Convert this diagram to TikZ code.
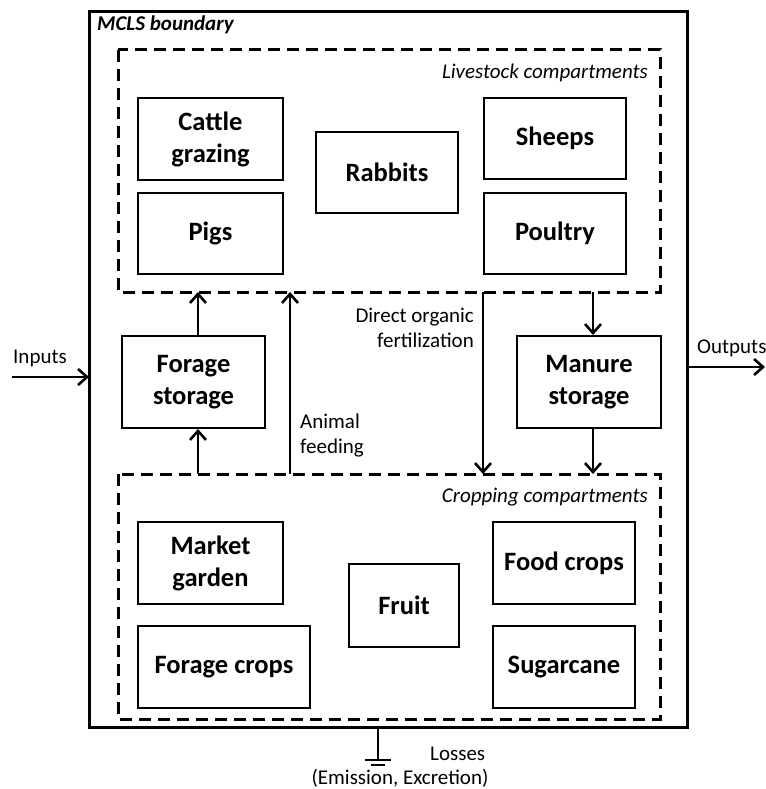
\documentclass[tikz,border=0pt]{standalone}
\usepackage{fontspec}
\setmainfont{Carlito}
\usetikzlibrary{arrows.meta}
\begin{document}
\begin{tikzpicture}[x=1pt,y=-1pt,
  unit/.style={draw,line width=2pt,font=\fontsize{26.5}{32}\selectfont\bfseries,align=center,anchor=north west,inner sep=0pt},
  zone/.style={draw,line width=3pt,dash pattern=on 12pt off 7pt},
  flow/.style={line width=2.6pt,-{Straight Barb[length=9pt,width=16pt]}},
  note/.style={font=\fontsize{21}{24.5}\selectfont,inner sep=0pt}]
\useasboundingbox (0,0) rectangle (765,789);
% system boundary
\draw[line width=3pt] (89,12) rectangle (687,727);
\node[anchor=north west,inner sep=0pt,font=\fontsize{21}{24}\selectfont\bfseries\itshape] at (97,16) {MCLS boundary};
% compartments
\draw[zone] (118,50) rectangle (660,292);
\node[note,anchor=base east,font=\fontsize{21}{24}\selectfont\itshape] at (648,79) {Livestock compartments};
\draw[zone] (118,474) rectangle (660,719);
\node[note,anchor=base east,font=\fontsize{21}{24}\selectfont\itshape] at (648,502) {Cropping compartments};
% livestock units
\node[unit,minimum width=145pt,minimum height=82pt] (cattle) at (137,97) {Cattle\\grazing};
\node[unit,minimum width=145pt,minimum height=81pt] (pigs) at (137,192) {Pigs};
\node[unit,minimum width=142pt,minimum height=81pt] (rabbits) at (315,131) {Rabbits};
\node[unit,minimum width=142pt,minimum height=81pt] (sheeps) at (483,97) {Sheeps};
\node[unit,minimum width=142pt,minimum height=81pt] (poultry) at (483,192) {Poultry};
% storages
\node[unit,minimum width=143pt,minimum height=92pt] (forage) at (121,335) {Forage\\storage};
\node[unit,minimum width=144pt,minimum height=92pt] (manure) at (516,335) {Manure\\storage};
% cropping units
\node[unit,minimum width=145pt,minimum height=82pt] (market) at (137,521) {Market\\garden};
\node[unit,minimum width=172pt,minimum height=82pt] (fcrops) at (137,625) {Forage crops};
\node[unit,minimum width=110pt,minimum height=83pt] (fruit) at (348,563) {Fruit};
\node[unit,minimum width=142pt,minimum height=82pt] (food) at (492,521) {Food crops};
\node[unit,minimum width=142pt,minimum height=82pt] (sugar) at (492,625) {Sugarcane};
% connection points on the compartment borders
\coordinate (lsA) at (198,292);
\coordinate (crA) at (198,474);
\coordinate (lsB) at (290,292);
\coordinate (crB) at (290,474);
\coordinate (lsC) at (483,292);
\coordinate (crC) at (483,474);
\coordinate (lsD) at (593,292);
\coordinate (crD) at (593,474);
% flows
\draw[flow] (forage.north -| lsA) -- (lsA);
\draw[flow] (crA) -- (forage.south -| crA);
\draw[flow] (crB) -- (lsB);
\draw[flow] (lsC) -- (crC);
\draw[flow] (lsD) -- (manure.north -| lsD);
\draw[flow] (manure.south -| crD) -- (crD);
\node[note,align=right,anchor=north east] (dof) at (474,308) {Direct organic\\fertilization};
\node[note,align=left,anchor=north west] (af) at (300,414) {Animal\\feeding};
% inputs and outputs
\coordinate (inS) at (12,377);
\coordinate (inE) at (89,377);
\coordinate (outS) at (687,367);
\coordinate (outE) at (765,367);
\draw[flow] (inS) -- (inE);
\draw[flow] (outS) -- (outE);
\node[note,anchor=base west] (inputs) at (13,363) {Inputs};
\node[note,anchor=base west] (outputs) at (697,353) {Outputs};
% losses (ground symbol)
\coordinate (gT) at (378,727);
\coordinate (gB) at (378,760);
\draw[line width=2pt] (gT) -- (gB);
\draw[line width=2pt] (365,760) -- (391,760);
\draw[line width=2pt] (371,764.5) -- (385,764.5);
\node[note,anchor=base west] (losses) at (430,760) {Losses};
\node[note,anchor=base] (emis) at (400,784) {(Emission, Excretion)};
\end{tikzpicture}
\end{document}
